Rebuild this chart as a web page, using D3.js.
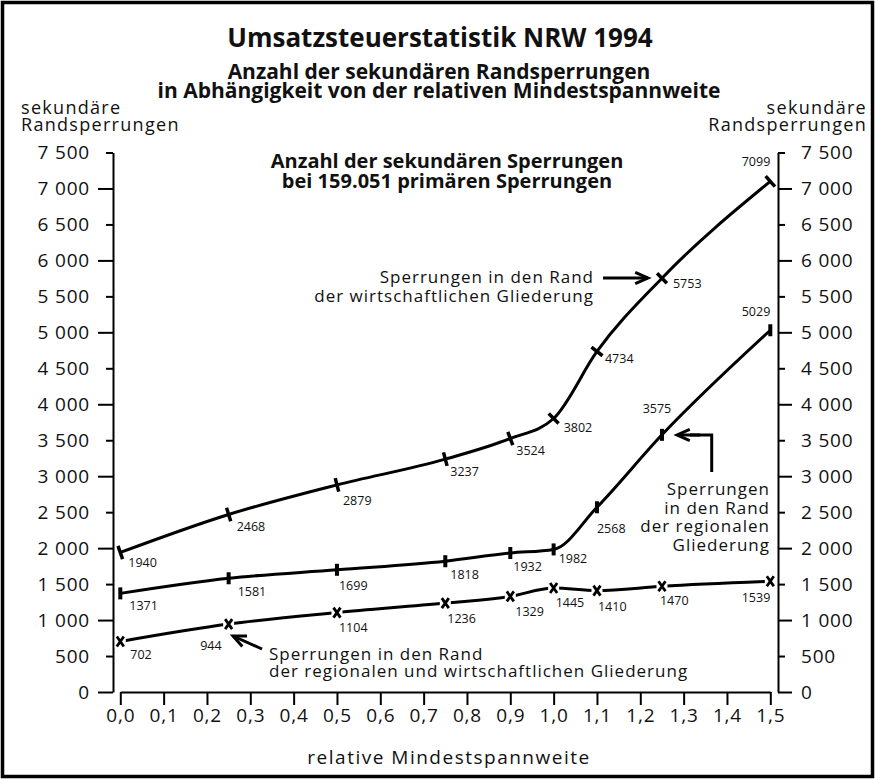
<!DOCTYPE html>
<html>
<head>
<meta charset="utf-8" />
<title>Umsatzsteuerstatistik NRW 1994</title>
<style>
  body { margin: 0; background: #fff; }
  text { font-family: "Open Sans", "Noto Sans", sans-serif; fill: #111; }
</style>
</head>
<body>
<svg id="chart" width="875" height="779"></svg>
<script src="https://d3js.org/d3.v7.min.js"></script>
<script>

// x values (relative Mindestspannweite)
var spannweite = [0, 0.25, 0.5, 0.75, 0.9, 1.0, 1.1, 1.25, 1.5];

// Sperrungen in den Rand der wirtschaftlichen Gliederung
var wirtschaftlich = [1940, 2468, 2879, 3237, 3524, 3802, 4734, 5753, 7099];
// Sperrungen in den Rand der regionalen Gliederung
var regional = [1371, 1581, 1699, 1818, 1932, 1982, 2568, 3575, 5029];
// Sperrungen in den Rand der regionalen und wirtschaftlichen Gliederung
var beide = [702, 944, 1104, 1236, 1329, 1445, 1410, 1470, 1539];

var xTicks = d3.range(0, 16).map(function(i){ return i / 10; });
var yTicks = d3.range(0, 16).map(function(i){ return i * 500; });

var svg = d3.select("#chart");

var x = d3.scaleLinear().domain([0, 1.5]).range([120.3, 770.3]);
var y = d3.scaleLinear().domain([0, 7500]).range([692, 152.5]);

// frame
svg.append("rect")
  .attr("x", 2.5).attr("y", 2.5)
  .attr("width", 870).attr("height", 774)
  .attr("fill", "white")
  .attr("stroke", "black")
  .attr("stroke-width", 3.5);

// titles
svg.append("text").attr("x", 440).attr("y", 47)
  .attr("text-anchor", "middle")
  .style("font-size", "26px").style("font-weight", "bold")
  .text("Umsatzsteuerstatistik NRW 1994");
svg.append("text").attr("x", 439).attr("y", 79)
  .attr("text-anchor", "middle")
  .style("font-size", "21px").style("font-weight", "bold")
  .text("Anzahl der sekundären Randsperrungen");
svg.append("text").attr("x", 439).attr("y", 98)
  .attr("text-anchor", "middle")
  .style("font-size", "21px").style("font-weight", "bold")
  .text("in Abhängigkeit von der relativen Mindestspannweite");

svg.append("text").attr("x", 447).attr("y", 168)
  .attr("text-anchor", "middle")
  .style("font-size", "20px").style("font-weight", "bold")
  .text("Anzahl der sekundären Sperrungen");
svg.append("text").attr("x", 447).attr("y", 188)
  .attr("text-anchor", "middle")
  .style("font-size", "20px").style("font-weight", "bold")
  .text("bei 159.051 primären Sperrungen");

// axis titles
[["sekundäre", 114], ["Randsperrungen", 131]].forEach(function(t){
  svg.append("text").attr("x", 21).attr("y", t[1])
    .style("font-size", "18px").style("letter-spacing", "1.3px")
    .text(t[0]);
  svg.append("text").attr("x", 867).attr("y", t[1])
    .attr("text-anchor", "end")
    .style("font-size", "18px").style("letter-spacing", "1.3px")
    .text(t[0]);
});

svg.append("text").attr("x", 449).attr("y", 764)
  .attr("text-anchor", "middle")
  .style("font-size", "19px").style("letter-spacing", "1.5px")
  .text("relative Mindestspannweite");

// axes
var fmtY = function(d){ return d3.format(",")(d).replace(/,/g, " "); };
var fmtX = function(d){ return d3.format(".1f")(d).replace(".", ","); };

var yLeft = svg.append("g")
  .attr("transform", "translate(113,0)")
  .call(d3.axisLeft(y).tickValues(yTicks).tickFormat(fmtY)
    .tickSize(15).tickPadding(8).tickSizeOuter(0));

var yRight = svg.append("g")
  .attr("transform", "translate(778,0)")
  .call(d3.axisRight(y).tickValues(yTicks).tickFormat(fmtY)
    .tickSize(14).tickPadding(9).tickSizeOuter(0));

var xAxis = svg.append("g")
  .attr("transform", "translate(0,692)")
  .call(d3.axisBottom(x).tickValues(xTicks).tickFormat(fmtX)
    .tickSize(13).tickPadding(3.5).tickSizeOuter(0));

[yLeft, yRight, xAxis].forEach(function(g){
  g.select(".domain").attr("stroke-width", 2);
  g.selectAll(".tick line").attr("stroke-width", 2);
  g.selectAll(".tick text")
    .style("font-size", "19px")
    .style("letter-spacing", "0.8px")
    .style("font-family", '"Open Sans", "Noto Sans", sans-serif')
    .attr("fill", "#111");
});
yLeft.selectAll(".tick line").filter(function(d){ return d % 1000 != 0; }).attr("x2", -7);
yRight.selectAll(".tick line").filter(function(d){ return d % 1000 != 0; }).attr("x2", 7);

// lines
var line = d3.line()
  .x(function(d){ return x(d[0]); })
  .y(function(d){ return y(d[1]); })
  .curve(d3.curveMonotoneX);

function pts(values){
  return values.map(function(v, i){ return [spannweite[i], v]; });
}

[wirtschaftlich, regional, beide].forEach(function(s){
  svg.append("path")
    .attr("d", line(pts(s)))
    .attr("fill", "none")
    .attr("stroke", "black")
    .attr("stroke-width", 3)
    .attr("stroke-linejoin", "round");
});

// markers: wirtschaftlich - strokes perpendicular to the curve
var pw = pts(wirtschaftlich);
pw.forEach(function(p, i){
  var a = pw[Math.max(i - 1, 0)], b = pw[Math.min(i + 1, pw.length - 1)];
  var dx = x(b[0]) - x(a[0]), dy = y(b[1]) - y(a[1]);
  var ang = Math.atan2(dy, dx) * 180 / Math.PI + 90;
  svg.append("line")
    .attr("transform", "translate(" + x(p[0]) + "," + y(p[1]) + ") rotate(" + ang + ")")
    .attr("x1", -7).attr("x2", 7)
    .attr("stroke", "black").attr("stroke-width", 3.5);
});

// markers: regional - vertical bars
svg.selectAll("rect.reg")
  .data(pts(regional))
  .enter().append("rect")
  .attr("class", "reg")
  .attr("x", function(d){ return x(d[0]) - 2; })
  .attr("y", function(d){ return y(d[1]) - 6; })
  .attr("width", 4).attr("height", 12)
  .attr("fill", "black");

// markers: beide - x crosses with a thin white gap around them
var crosses = svg.selectAll("g.cross")
  .data(pts(beide))
  .enter().append("g")
  .attr("class", "cross")
  .attr("transform", function(d){ return "translate(" + x(d[0]) + "," + y(d[1]) + ")"; });
crosses.append("rect")
  .attr("x", -5.5).attr("y", -6.5).attr("width", 11).attr("height", 13)
  .attr("fill", "white");
crosses.append("path")
  .attr("d", "M-3.5,-5L3.5,5M3.5,-5L-3.5,5")
  .attr("stroke", "black").attr("stroke-width", 2.8);

// value labels [dx, dy, anchor]
var offW = [[8,15,"start"],[8,17,"start"],[6,20,"start"],[5,17,"start"],[6,16,"start"],[10,13,"start"],[8,12,"start"],[11,10,"start"],[0,-15,"end"]];
var offR = [[9,17,"start"],[9,18,"start"],[2,20,"start"],[5,18,"start"],[3,18,"start"],[5,14,"start"],[0,26,"start"],[-5,-22,"middle"],[0,-14,"end"]];
var offB = [[10,17,"start"],[-7,26,"end"],[2,19,"start"],[2,20,"start"],[5,20,"start"],[2,19,"start"],[1,20,"start"],[-2,19,"start"],[0,21,"end"]];

function labels(values, off){
  values.forEach(function(v, i){
    svg.append("text")
      .attr("x", x(spannweite[i]) + off[i][0])
      .attr("y", y(v) + off[i][1])
      .attr("text-anchor", off[i][2])
      .style("font-size", "12.5px")
      .attr("fill", "#222")
      .text(v);
  });
}
labels(wirtschaftlich, offW);
labels(regional, offR);
labels(beide, offB);

// annotations
function arrow(x1, y1, x2, y2){
  svg.append("line")
    .attr("x1", x1).attr("y1", y1).attr("x2", x2).attr("y2", y2)
    .attr("stroke", "black").attr("stroke-width", 3);
  var ang = Math.atan2(y2 - y1, x2 - x1);
  var h = 14, w = 0.42;
  var p = [
    [x2 - h * Math.cos(ang - w), y2 - h * Math.sin(ang - w)],
    [x2, y2],
    [x2 - h * Math.cos(ang + w), y2 - h * Math.sin(ang + w)]
  ];
  svg.append("path")
    .attr("d", d3.line()(p))
    .attr("fill", "none").attr("stroke", "black")
    .attr("stroke-width", 3).attr("stroke-linejoin", "miter");
}

function note(lines, xPos, y0, step, anchor){
  lines.forEach(function(t, i){
    svg.append("text")
      .attr("x", xPos).attr("y", y0 + i * step)
      .attr("text-anchor", anchor)
      .style("font-size", "17px").style("letter-spacing", "1px")
      .text(t);
  });
}

note(["Sperrungen in den Rand", "der wirtschaftlichen Gliederung"], 594, 283, 18.5, "end");
arrow(603, 278, 648, 278);

note(["Sperrungen", "in den Rand", "der regionalen", "Gliederung"], 770, 495, 18.5, "end");
svg.append("path")
  .attr("d", "M711.7,472L711.7,435L690,435")
  .attr("fill", "none").attr("stroke", "black").attr("stroke-width", 3);
arrow(700, 435, 677, 435);

note(["Sperrungen in den Rand", "der regionalen und wirtschaftlichen Gliederung"], 269, 660, 17, "start");
arrow(262, 649, 233, 636);

</script>
</body>
</html>
